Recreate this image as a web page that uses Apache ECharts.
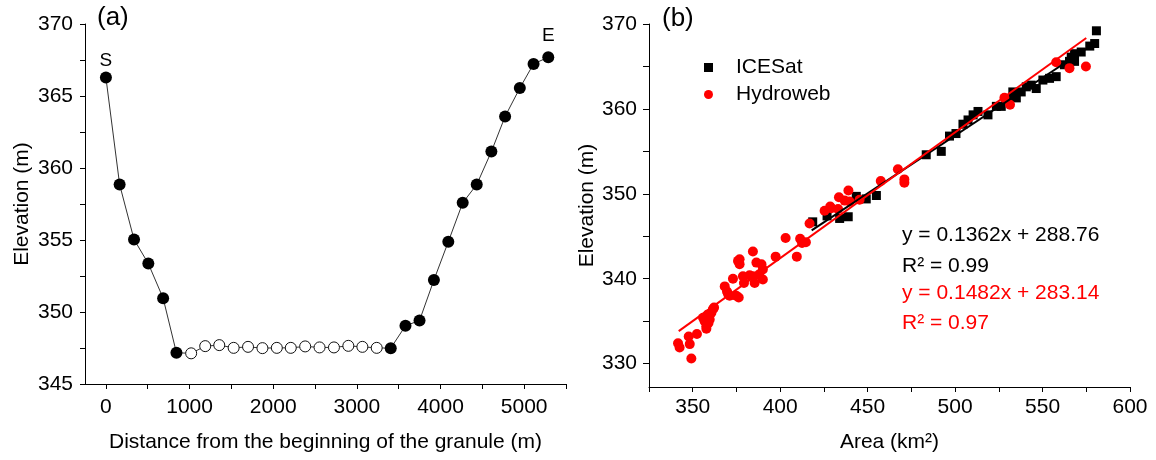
<!DOCTYPE html>
<html><head><meta charset="utf-8">
<script src="https://cdn.jsdelivr.net/npm/echarts@6/dist/echarts.min.js"></script>
<style>html,body{margin:0;padding:0;background:#fff}#c{width:1156px;height:460px}</style>
</head><body><div id="c"></div>
<script>
// ---------- Panel (a) data ----------
const distA = [0,164,336,507,684,843,1019,1187,1355,1527,1699,1871,2043,2210,2382,2554,2726,2898,3066,3237,3405,3581,3749,3921,4093,4265,4433,4608,4772,4948,5112,5288];
const elevA = [366.28,358.85,355.04,353.36,350.96,347.17,347.13,347.63,347.70,347.51,347.58,347.49,347.51,347.51,347.61,347.54,347.54,347.65,347.58,347.51,347.49,349.04,349.41,352.22,354.88,357.58,358.85,361.14,363.58,365.55,367.23,367.69];
const solidA = [1,1,1,1,1,1,0,0,0,0,0,0,0,0,0,0,0,0,0,0,1,1,1,1,1,1,1,1,1,1,1,1];
const endLabelsA = {first:'S', last:'E'};
const distTickValues = [0,500,1000,1500,2000,2500,3000,3500,4000,4500,5000,5500];
const distLabelValues = [0,1000,2000,3000,4000,5000];
const elevATickValues = [345,347.5,350,352.5,355,357.5,360,362.5,365,367.5,370];
const elevALabelValues = [345,350,355,360,365,370];

// ---------- Panel (b) data ----------
const iceArea = [418.6,426.8,434.0,438.9,443.5,449.2,455.0,483.5,492.1,496.8,500.5,504.5,507.4,510.3,513.1,518.8,523.6,526.4,530.0,533.0,535.0,537.8,540.7,543.5,546.4,550.2,554.0,557.8,562.5,565.4,566.4,568.3,568.3,572.1,577.0,579.8,580.8];
const iceElev = [346.7,347.4,347.1,347.3,349.7,349.4,349.8,354.6,355.0,356.8,357.1,358.2,358.7,359.3,359.7,359.3,360.3,360.3,361.0,362.0,361.3,362.0,362.6,362.8,362.4,363.4,363.6,363.8,365.2,365.6,366.1,366.5,365.6,366.7,367.4,367.7,369.2];
const hydroArea = [341.6,342.5,347.7,348.3,349.2,352.4,355.9,356.8,357.8,357.8,358.7,359.7,360.7,361.5,362.2,359.0,368.3,369.6,370.2,371.1,373.0,374.9,376.3,375.9,376.8,376.8,378.7,379.3,382.5,384.4,384.4,385.4,386.4,387.9,389.3,390.1,390.1,397.4,403.1,409.5,411.4,412.5,414.7,416.8,425.4,428.6,429.2,433.1,433.6,436.9,439.0,439.7,445.4,457.5,467.3,471.0,471.0,528.2,531.4,557.8,565.4,574.8];
const hydroElev = [332.4,331.9,333.2,332.3,330.6,333.5,335.4,335.0,334.1,334.4,335.8,335.2,336.0,336.4,336.6,334.8,339.1,338.5,338.2,338.0,340.0,338.0,337.8,342.1,342.3,341.7,340.3,339.5,340.4,343.2,340.3,339.5,341.9,340.5,341.7,339.9,341.1,342.6,344.8,342.6,344.7,344.2,344.3,346.5,348.0,348.5,348.3,348.2,349.6,349.2,350.4,349.1,349.3,351.5,352.9,351.7,351.3,361.3,360.5,365.5,364.8,365.0];
const fitIce = {slope:0.1362, intercept:288.76, from:418, to:582, r2:0.99};
const fitHydro = {slope:0.1482, intercept:283.14, from:342, to:575, r2:0.97};
const seriesNames = ['ICESat','Hydroweb'];
const areaTickValues = [325,350,375,400,425,450,475,500,525,550,575,600];
const areaLabelValues = [350,400,450,500,550,600];
const elevBTickValues = [330,335,340,345,350,355,360,365,370];
const elevBLabelValues = [330,340,350,360,370];

// ---------- build ----------
const FONT = '"Liberation Sans", Arial, sans-serif';
const zip = (a,b) => a.map((v,i)=>[v,b[i]]);
const fitLine = f => [[f.from, f.slope*f.from+f.intercept],[f.to, f.slope*f.to+f.intercept]];
const eqText = f => 'y = ' + f.slope.toFixed(4) + 'x + ' + f.intercept.toFixed(2);
const r2Text = f => 'R\u00B2 = ' + f.r2.toFixed(2);
const plain = v => String(v);

const pointsA = distA.map((d,i)=>{
  const p = {value:[d, elevA[i]]};
  if (solidA[i]) {
    p.symbolSize = 12;
    p.itemStyle = {color:'#000', borderColor:'#000', borderWidth:0};
  } else {
    p.symbolSize = 11;
    p.itemStyle = {color:'#fff', borderColor:'#111', borderWidth:1};
  }
  if (i === 0) p.label = {show:true, formatter:endLabelsA.first, position:'top', distance:1};
  if (i === distA.length-1) p.label = {show:true, formatter:endLabelsA.last, position:'top', distance:6};
  return p;
});

const axisCommon = {
  type:'value', nameLocation:'middle',
  nameTextStyle:{fontSize:21, color:'#000', fontFamily:FONT},
  axisLine:{show:true, onZero:false, lineStyle:{color:'#000', width:1}},
  splitLine:{show:false},
};

const option = {
  animation:false,
  backgroundColor:'#fff',
  textStyle:{fontFamily:FONT},
  grid:[
    {left:85, top:24, width:481, height:360},
    {left:649, top:24, width:481, height:363}
  ],
  xAxis:[
    Object.assign({}, axisCommon, {gridIndex:0, min:-250, max:5500,
      name:'Distance from the beginning of the granule (m)', nameGap:48,
      axisTick:{show:true, customValues:distTickValues, length:5, lineStyle:{color:'#000'}},
      axisLabel:{customValues:distLabelValues, formatter:plain, fontSize:21, color:'#000', margin:13, fontFamily:FONT}}),
    Object.assign({}, axisCommon, {gridIndex:1, min:325, max:600,
      name:'Area (km\u00B2)', nameGap:45,
      axisTick:{show:true, customValues:areaTickValues, length:5, lineStyle:{color:'#000'}},
      axisLabel:{customValues:areaLabelValues, formatter:plain, fontSize:21, color:'#000', margin:10, fontFamily:FONT}})
  ],
  yAxis:[
    Object.assign({}, axisCommon, {gridIndex:0, min:345, max:370,
      name:'Elevation (m)', nameGap:52,
      axisTick:{show:true, customValues:elevATickValues, length:5, lineStyle:{color:'#000'}},
      axisLabel:{customValues:elevALabelValues, formatter:plain, fontSize:21, color:'#000', margin:12, fontFamily:FONT}}),
    Object.assign({}, axisCommon, {gridIndex:1, min:327.25, max:370,
      name:'Elevation (m)', nameGap:48,
      axisTick:{show:true, customValues:elevBTickValues, length:6, lineStyle:{color:'#000'}},
      axisLabel:{customValues:elevBLabelValues, formatter:plain, fontSize:21, color:'#000', margin:12, fontFamily:FONT}})
  ],
  legend:{
    data:[{name:seriesNames[0], icon:'rect'},{name:seriesNames[1], icon:'circle'}],
    orient:'vertical', left:699, top:52, itemWidth:9, itemHeight:9, itemGap:6,
    selectedMode:false,
    textStyle:{fontSize:21, color:'#000', fontFamily:FONT, padding:[0,0,0,18]}
  },
  series:[
    {type:'line', xAxisIndex:0, yAxisIndex:0, data:pointsA, symbol:'circle',
     lineStyle:{color:'#333', width:1}, z:2,
     label:{fontSize:19, color:'#000', fontFamily:FONT}},
    {name:seriesNames[0], type:'scatter', xAxisIndex:1, yAxisIndex:1, data:zip(iceArea, iceElev),
     symbol:'rect', symbolSize:9, itemStyle:{color:'#000', opacity:1}, z:2},
    {name:seriesNames[1], type:'scatter', xAxisIndex:1, yAxisIndex:1, data:zip(hydroArea, hydroElev),
     symbol:'circle', symbolSize:10, itemStyle:{color:'#ff0000', opacity:1}, z:3},
    {type:'line', xAxisIndex:1, yAxisIndex:1, data:fitLine(fitIce), symbol:'none',
     lineStyle:{color:'#000', width:2}, z:4},
    {type:'line', xAxisIndex:1, yAxisIndex:1, data:fitLine(fitHydro), symbol:'none',
     lineStyle:{color:'#ff0000', width:2}, z:5}
  ],
  graphic:[
    {type:'text', left:97, top:5, style:{text:'(a)', fontSize:26, fill:'#000', fontFamily:FONT}},
    {type:'text', left:662, top:6, style:{text:'(b)', fontSize:26, fill:'#000', fontFamily:FONT}},
    {type:'text', x:902, y:235, style:{text:eqText(fitIce), fontSize:21, fill:'#000', fontFamily:FONT, verticalAlign:'middle'}},
    {type:'text', x:902, y:266, style:{text:r2Text(fitIce), fontSize:21, fill:'#000', fontFamily:FONT, verticalAlign:'middle'}},
    {type:'text', x:902, y:293, style:{text:eqText(fitHydro), fontSize:21, fill:'#ff0000', fontFamily:FONT, verticalAlign:'middle'}},
    {type:'text', x:902, y:323, style:{text:r2Text(fitHydro), fontSize:21, fill:'#ff0000', fontFamily:FONT, verticalAlign:'middle'}}
  ]
};
const chart = echarts.init(document.getElementById('c'), null, {renderer:'canvas'});
chart.setOption(option);
</script></body></html>
